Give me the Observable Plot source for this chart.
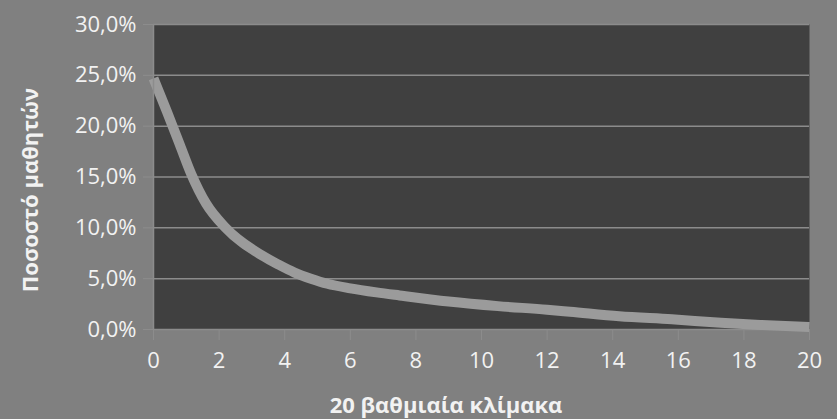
<!DOCTYPE html>
<html>
<head>
<meta charset="utf-8">
<script src="https://cdn.jsdelivr.net/npm/d3@7"></script>
<script src="https://cdn.jsdelivr.net/npm/@observablehq/plot@0.6"></script>
<style>
  html, body { margin: 0; padding: 0; background: #808080; }
</style>
</head>
<body>
<div id="chart"></div>
<script>
// Grade on the 20-point scale
const grade = [0, 0.4, 0.8, 1.15, 1.6, 2.2, 3.3, 3.8, 4.3, 4.8, 5.3, 6, 6.8, 7.5, 9, 10.5, 12, 12.7, 14.2, 15.8, 17.3, 18.5, 20];
// Percentage of students (%)
const percent = [24.7, 21.5, 18.2, 15.3, 12.4, 10, 7.3, 6.4, 5.6, 5.0, 4.5, 4.05, 3.65, 3.35, 2.75, 2.3, 1.95, 1.75, 1.3, 1.0, 0.66, 0.45, 0.25];
const xTicks = [0, 2, 4, 6, 8, 10, 12, 14, 16, 18, 20];
const yTicks = [0, 5, 10, 15, 20, 25, 30];
const xTitle = "20 βαθμιαία κλίμακα";
const yTitle = "Ποσοστό μαθητών";

const data = grade.map((g, i) => ({grade: g, percent: percent[i]}));
const pctFormat = d => d.toFixed(1).replace(".", ",") + "%";

const chart = Plot.plot({
  width: 837,
  height: 419,
  marginLeft: 153,
  marginRight: 28,
  marginTop: 24,
  marginBottom: 90,
  style: {background: "#808080", color: "#f2f2f2", fontFamily: "'Open Sans', sans-serif", fontSize: "22px", overflow: "visible"},
  x: {domain: [0, 20], label: null},
  y: {domain: [0, 30], label: null},
  marks: [
    Plot.frame({fill: "#404040", stroke: null}),
    Plot.gridY(yTicks, {stroke: "#8c8c8c", strokeOpacity: 1, strokeWidth: 1.5}),
    Plot.line(data, {x: "grade", y: "percent", stroke: "#9b9b9b", strokeWidth: 10, curve: "monotone-x", strokeLinecap: "butt", strokeLinejoin: "round"}),
    Plot.ruleX([0], {stroke: "#8c8c8c", strokeWidth: 1.5}),
    Plot.axisY(yTicks, {tickSize: 10, tickPadding: 7, stroke: "#8c8c8c", fill: "#f2f2f2", tickFormat: pctFormat, label: null, fontSize: 22}),
    Plot.axisX(xTicks, {tickSize: 11, tickPadding: 12, stroke: "#8c8c8c", fill: "#f2f2f2", label: null, fontSize: 22})
  ]
});

const svg = d3.select(chart);
svg.append("text")
  .attr("x", 446).attr("y", 413)
  .attr("text-anchor", "middle")
  .attr("font-weight", "bold")
  .attr("font-size", 22)
  .attr("fill", "#f2f2f2")
  .attr("font-family", "'Open Sans', sans-serif")
  .text(xTitle);
svg.append("text")
  .attr("transform", "translate(38,190) rotate(-90)")
  .attr("text-anchor", "middle")
  .attr("font-weight", "bold")
  .attr("font-size", 22)
  .attr("fill", "#f2f2f2")
  .attr("font-family", "'Open Sans', sans-serif")
  .text(yTitle);

document.getElementById("chart").appendChild(chart);
</script>
</body>
</html>
